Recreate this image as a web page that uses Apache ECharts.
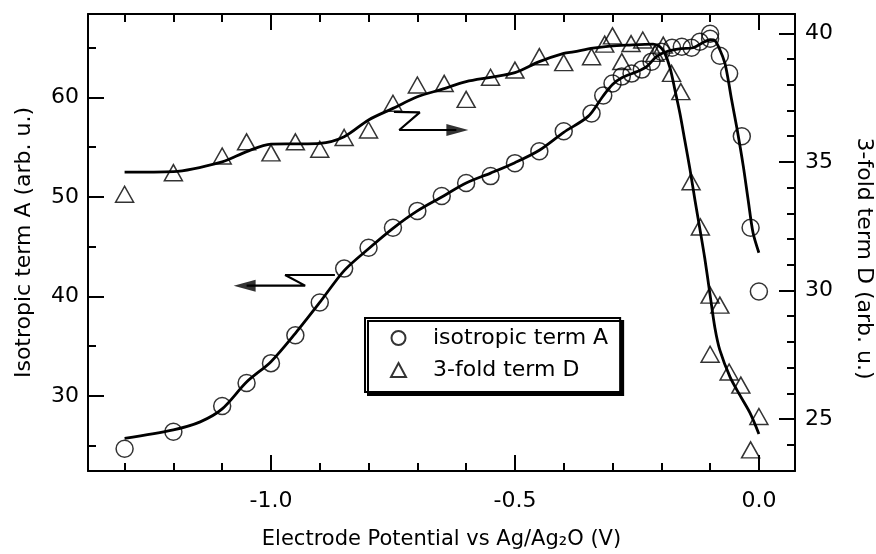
<!DOCTYPE html>
<html><head><meta charset="utf-8">
<script src="https://cdn.jsdelivr.net/npm/echarts@6/dist/echarts.min.js"></script>
<style>html,body{margin:0;padding:0;background:#fff}#c{width:876px;height:554px}</style>
</head><body><div id="c"></div>
<script>
// ---- data ----
const potentialA = [-1.3,-1.2,-1.1,-1.05,-1.0,-0.95,-0.9,-0.85,-0.8,-0.75,-0.7,-0.65,-0.6,-0.55,-0.5,-0.45,-0.4,-0.343,-0.319,-0.3,-0.281,-0.261,-0.24,-0.22,-0.2,-0.178,-0.158,-0.138,-0.121,-0.1,-0.1,-0.08,-0.061,-0.035,-0.017,0.0];
const termA = [24.7,26.4,29.0,31.3,33.3,36.1,39.4,42.8,44.9,46.9,48.6,50.1,51.4,52.1,53.4,54.6,56.6,58.4,60.2,61.4,62.1,62.4,62.8,63.6,64.6,65.0,65.1,65.0,65.6,66.4,65.9,64.2,62.4,56.1,46.9,40.5];

const potentialD = [-1.3,-1.2,-1.1,-1.05,-1.0,-0.95,-0.9,-0.85,-0.8,-0.75,-0.7,-0.645,-0.6,-0.55,-0.5,-0.45,-0.4,-0.343,-0.316,-0.3,-0.281,-0.262,-0.238,-0.213,-0.196,-0.179,-0.16,-0.139,-0.12,-0.1,-0.08,-0.1,-0.061,-0.037,0.0,-0.017];
const termD = [33.74,34.58,35.23,35.78,35.35,35.78,35.49,35.95,36.24,37.28,37.99,38.05,37.43,38.29,38.57,39.09,38.86,39.09,39.58,39.9,38.9,39.6,39.74,39.22,39.54,38.44,37.73,34.23,32.47,29.82,29.43,27.52,26.83,26.32,25.1,23.8];

const fitAx = [-1.3,-1.2,-1.145,-1.1,-1.05,-1.0,-0.95,-0.9,-0.85,-0.8,-0.75,-0.7,-0.65,-0.6,-0.55,-0.5,-0.45,-0.4,-0.35,-0.32,-0.3,-0.28,-0.25,-0.23,-0.21,-0.19,-0.16,-0.135,-0.115,-0.1,-0.09,-0.08,-0.07,-0.063,-0.056,-0.045,-0.032,-0.022,-0.012,0.0];
const fitAy = [25.75,26.6,27.4,28.7,31.4,33.45,36.3,39.4,42.6,44.8,46.85,48.6,50.0,51.4,52.4,53.45,54.7,56.5,58.1,60.1,61.3,62.0,62.6,63.1,64.1,64.6,64.9,65.0,65.5,65.8,65.7,64.8,63.5,61.8,59.8,56.9,53.1,49.7,46.4,44.4];

const fitDx = [-1.3,-1.2,-1.1,-1.05,-1.0,-0.95,-0.9,-0.85,-0.8,-0.75,-0.7,-0.65,-0.6,-0.55,-0.5,-0.45,-0.4,-0.38,-0.34,-0.305,-0.27,-0.217,-0.203,-0.193,-0.182,-0.172,-0.162,-0.152,-0.141,-0.131,-0.121,-0.111,-0.1,-0.09,-0.08,-0.059,-0.039,-0.018,0.0];
const fitDy = [34.6,34.62,35.0,35.4,35.69,35.7,35.72,35.98,36.63,37.08,37.53,37.82,38.12,38.29,38.47,38.9,39.22,39.28,39.42,39.5,39.54,39.58,39.48,39.23,38.65,37.79,36.9,35.85,34.68,33.51,32.4,31.26,29.82,28.53,27.68,26.63,25.93,25.23,24.42];

const xMajorTicks = [-1.0,-0.5,0.0];
const xMinorTicks = [-1.3,-1.2,-1.1,-0.9,-0.8,-0.7,-0.6,-0.4,-0.3,-0.2,-0.1];
const yLeftMajor = [30,40,50,60];
const yLeftMinor = [25,35,45,55,65];
const yRightMajor = [25,30,35,40];
const yRightMinor = [24,26,27,28,29,31,32,33,34,36,37,38,39];

// annotation arrows (data coordinates, left axis)
const arrowRightPath = [[-0.748,58.55],[-0.695,58.5],[-0.737,56.73],[-0.62,56.73]];
const arrowLeftPath = [[-0.869,42.16],[-0.971,42.16],[-0.930,41.09],[-1.05,41.09]];
const arrowHeads = [[-0.618,56.73,0],[-1.054,41.09,180]];

const X_MIN = -1.375, X_MAX = 0.074;
const YL_MIN = 22.46, YL_MAX = 68.39;
const YR_MIN = 22.98, YR_MAX = 40.75;

// ---- chart ----
const FONT = 'DejaVu Sans';
const txt = {color:'#000', fontFamily:FONT, fontSize:22};
const axLine = {show:true, onZero:false, lineStyle:{color:'#000', width:2}};
const noLine = {show:false, onZero:false};
const zip = (xs, ys) => xs.map((x,i)=>[x, ys[i]]);

function xAx(grid, pos, ticks, len, withLabels) {
  return {
    gridIndex:grid, type:'value', position:pos, min:X_MIN, max:X_MAX,
    axisLine: grid===0 ? axLine : noLine,
    axisTick:{show:true, inside:true, length:len, customValues:ticks, lineStyle:{color:'#000', width:2}},
    axisLabel: withLabels ? Object.assign({show:true, customValues:ticks, margin:19, formatter:v=>Number(v).toFixed(1)}, txt) : {show:false},
    splitLine:{show:false}
  };
}
function yAx(grid, pos, min, max, ticks, len, withLabels, margin) {
  return {
    gridIndex:grid, type:'value', position:pos, min:min, max:max,
    axisLine: grid===0 ? axLine : noLine,
    axisTick:{show:true, inside:true, length:len, customValues:ticks, lineStyle:{color:'#000', width:2}},
    axisLabel: withLabels ? Object.assign({show:true, customValues:ticks, margin:margin, formatter:v=>String(Math.round(v))}, txt) : {show:false},
    splitLine:{show:false}
  };
}

const xAxes = [
  Object.assign(xAx(0,'bottom',xMajorTicks,16,true), {
    name:'Electrode Potential vs Ag/Ag\u2082O (V)', nameLocation:'middle', nameGap:58,
    nameTextStyle:Object.assign({}, txt, {fontSize:21})
  }),
  xAx(0,'top',xMajorTicks,16,false),
  xAx(1,'bottom',xMinorTicks,8,false),
  xAx(1,'top',xMinorTicks,8,false)
];
const yAxes = [
  Object.assign(yAx(0,'left',YL_MIN,YL_MAX,yLeftMajor,16,true,9), {
    name:'Isotropic term A (arb. u.)', nameLocation:'middle', nameGap:53,
    nameTextStyle:Object.assign({}, txt)
  }),
  Object.assign(yAx(0,'right',YR_MIN,YR_MAX,yRightMajor,16,true,10), {
    name:'3-fold term D (arb. u.)', nameLocation:'middle', nameGap:58, nameRotate:-90,
    nameTextStyle:Object.assign({padding:[0,0,0,32]}, txt)
  }),
  yAx(1,'left',YL_MIN,YL_MAX,yLeftMinor,8,false),
  yAx(1,'right',YR_MIN,YR_MAX,yRightMinor,8,false)
];

const hollow = {color:'rgba(0,0,0,0)', borderColor:'#000', borderWidth:1.5};
const gridBox = {left:88, right:81, top:14, bottom:83, containLabel:false, outerBoundsMode:'none'};
const chart = echarts.init(document.getElementById('c'), null, {renderer:'canvas'});
chart.setOption({
  animation:false,
  backgroundColor:'#fff',
  textStyle:{fontFamily:FONT},
  grid:[Object.assign({}, gridBox), Object.assign({}, gridBox)],
  xAxis:xAxes,
  yAxis:yAxes,
  legend:{
    data:[{name:'isotropic term A', icon:'circle'},{name:'3-fold term D', icon:'triangle'}],
    orient:'vertical', left:365, top:318,
    itemWidth:15, itemHeight:14, itemGap:10, symbolKeepAspect:true,
    padding:[9,12,11,25],
    borderColor:'#000', borderWidth:2, backgroundColor:'#fff',
    shadowColor:'#000', shadowBlur:0, shadowOffsetX:3, shadowOffsetY:3,
    textStyle:Object.assign({lineHeight:22, padding:[0,0,0,22]}, txt)
  },
  series:[
    {name:'isotropic term A', type:'scatter', xAxisIndex:0, yAxisIndex:0,
     symbol:'circle', symbolSize:17, itemStyle:hollow, data:zip(potentialA, termA), z:2},
    {name:'3-fold term D', type:'scatter', xAxisIndex:0, yAxisIndex:1,
     symbol:'triangle', symbolSize:[18,16], itemStyle:hollow, data:zip(potentialD, termD), z:2},
    {name:'fitA', type:'line', xAxisIndex:0, yAxisIndex:0, showSymbol:false, symbol:'none',
     smooth:0.3, lineStyle:{color:'#000', width:2.8}, data:zip(fitAx, fitAy), z:3},
    {name:'fitD', type:'line', xAxisIndex:0, yAxisIndex:1, showSymbol:false, symbol:'none',
     smooth:0.3, lineStyle:{color:'#000', width:2.8}, data:zip(fitDx, fitDy), z:3},
    {name:'arrowR', type:'line', xAxisIndex:0, yAxisIndex:0, symbol:'none', smooth:false,
     lineStyle:{color:'#000', width:2.2}, data:arrowRightPath, z:4},
    {name:'arrowL', type:'line', xAxisIndex:0, yAxisIndex:0, symbol:'none', smooth:false,
     lineStyle:{color:'#000', width:2.2}, data:arrowLeftPath, z:4},
    {name:'heads', type:'scatter', xAxisIndex:0, yAxisIndex:0,
     symbol:'path://M0,0 L22,6 L0,12 Z', symbolSize:[22,12], symbolKeepAspect:false,
     symbolRotate:function(v){return v[2];},
     itemStyle:{color:'#000'}, data:arrowHeads, z:4}
  ]
});
</script></body></html>
